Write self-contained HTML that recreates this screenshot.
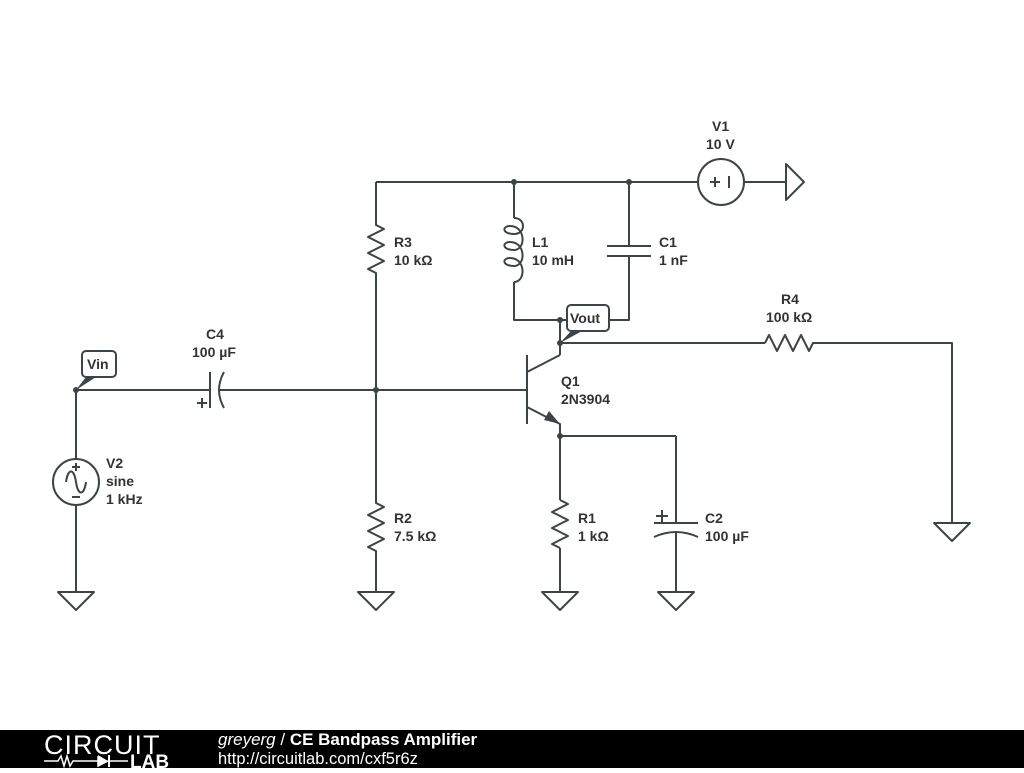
<!DOCTYPE html>
<html><head><style>
body{margin:0;width:1024px;height:768px;background:#fff;overflow:hidden;font-family:"Liberation Sans",sans-serif}
svg text{font-family:"Liberation Sans",sans-serif;font-weight:bold;font-size:14px;fill:#333}
</style></head><body>
<svg width="1024" height="768" viewBox="0 0 1024 768">
<g stroke="#3d4447" stroke-width="2" fill="none" stroke-linejoin="round">
<line x1="376" y1="182" x2="698" y2="182"/>
<circle cx="721" cy="182" r="23"/>
<line x1="710" y1="182" x2="720" y2="182"/><line x1="715" y1="177" x2="715" y2="187"/><line x1="729" y1="176" x2="729" y2="188"/>
<line x1="744" y1="182" x2="786" y2="182"/>
<polygon points="786,164 786,200 804,182"/>
<polyline points="376,182 376,225 384,229 368,237 384,245 368,253 384,261 368,269 376,273 376,390"/>
<line x1="76" y1="390" x2="210" y2="390"/>
<line x1="210" y1="372" x2="210" y2="408"/>
<path d="M224,372 Q214,390 224,408"/>
<line x1="218" y1="390" x2="527" y2="390"/>
<line x1="197" y1="403" x2="207" y2="403"/><line x1="202" y1="398" x2="202" y2="408"/>
<line x1="76" y1="390" x2="76" y2="459"/>
<circle cx="76" cy="482" r="23"/>
<path d="M66,482 C68,468 74,468 76,482 C78,496 84,496 86,482"/>
<line x1="72" y1="467" x2="80" y2="467"/><line x1="76" y1="463" x2="76" y2="471"/>
<line x1="72" y1="497" x2="80" y2="497"/>
<line x1="76" y1="505" x2="76" y2="592"/>
<polygon points="58,592 94,592 76,610"/>
<polyline points="376,390 376,503 384,507 368,515 384,523 368,531 384,539 368,547 376,551 376,592"/>
<polygon points="358,592 394,592 376,610"/>
<line x1="514" y1="182" x2="514" y2="218"/>
<path d="M514,218 C526,218 526,234 514,234 C502,234 502,226 510,226 C526,226 526,250 514,250 C502,250 502,242 510,242 C526,242 526,266 514,266 C502,266 502,258 510,258 C526,258 526,282 514,282"/>
<polyline points="514,282 514,320 629,320 629,256"/>
<line x1="629" y1="182" x2="629" y2="246"/>
<line x1="607" y1="246" x2="651" y2="246"/>
<line x1="607" y1="256" x2="651" y2="256"/>
<line x1="560" y1="320" x2="560" y2="355"/>
<line x1="527" y1="355" x2="527" y2="424"/>
<polyline points="527,372 560,355"/>
<polyline points="527,407 560,424 560,500"/>
<line x1="560" y1="548" x2="560" y2="592"/>
<line x1="560" y1="343" x2="765" y2="343"/>
<polyline points="765,343 769,335 777,351 785,335 793,351 801,335 809,351 813,343 952,343 952,523"/>
<polygon points="934,523 970,523 952,541"/>
<polyline points="560,500 568,504 552,512 568,520 552,528 568,536 552,544 560,548"/>
<polygon points="542,592 578,592 560,610"/>
<line x1="560" y1="436" x2="676" y2="436"/>
<line x1="676" y1="436" x2="676" y2="523"/>
<line x1="654" y1="523" x2="698" y2="523"/>
<path d="M654,537 Q676,527 698,537"/>
<line x1="676" y1="531" x2="676" y2="592"/>
<line x1="656" y1="516" x2="668" y2="516"/><line x1="662" y1="510" x2="662" y2="522"/>
<polygon points="658,592 694,592 676,610"/>
</g>
<polygon points="560,424 544,420 549,411" fill="#3d4447"/>
<g fill="#3d4447">
<circle cx="514" cy="182" r="3"/><circle cx="629" cy="182" r="3"/>
<circle cx="376" cy="390" r="3"/><circle cx="76" cy="390" r="3"/>
<circle cx="560" cy="320" r="3"/><circle cx="560" cy="343" r="3"/>
<circle cx="560" cy="436" r="3"/>
<polygon points="76,390 86,377 96,377"/>
<polygon points="560,343 572,330 584,330"/>
</g>
<rect x="82" y="351" width="34" height="26" rx="4" fill="#fff" stroke="#3d4447" stroke-width="2"/>
<text x="87" y="369">Vin</text>
<rect x="567" y="305" width="42" height="26" rx="4" fill="#fff" stroke="#3d4447" stroke-width="2"/>
<text x="570" y="323">Vout</text>
<text x="712" y="131">V1</text><text x="706" y="149">10 V</text>
<text x="394" y="247">R3</text><text x="394" y="265">10 kΩ</text>
<text x="532" y="247">L1</text><text x="532" y="265">10 mH</text>
<text x="659" y="247">C1</text><text x="659" y="265">1 nF</text>
<text x="781" y="304">R4</text><text x="766" y="322">100 kΩ</text>
<text x="206" y="339">C4</text><text x="192" y="357">100 µF</text>
<text x="561" y="386">Q1</text><text x="561" y="404">2N3904</text>
<text x="106" y="468">V2</text><text x="106" y="486">sine</text><text x="106" y="504">1 kHz</text>
<text x="394" y="523">R2</text><text x="394" y="541">7.5 kΩ</text>
<text x="578" y="523">R1</text><text x="578" y="541">1 kΩ</text>
<text x="705" y="523">C2</text><text x="705" y="541">100 µF</text>
<rect x="0" y="730" width="1024" height="38" fill="#000"/>
<text x="44" y="754" style="font-weight:normal;font-size:27px;fill:#fff;letter-spacing:1px">CIRCUIT</text>
<g stroke="#fff" stroke-width="1.5" fill="none"><polyline points="44,761 58,761 61,756 64,766 67,756 70,766 73,761 98,761 98,756 98,766 108,761 128,761"/></g>
<polygon points="98,755 98,767 108,761" fill="#fff"/>
<line x1="109" y1="755" x2="109" y2="767" stroke="#fff" stroke-width="2"/>
<text x="130" y="768" style="font-size:19px;fill:#fff">LAB</text>
<text x="218" y="745" style="font-size:17px;fill:#fff"><tspan style="font-style:italic;font-weight:normal">greyerg</tspan><tspan style="font-weight:normal"> / </tspan>CE Bandpass Amplifier</text>
<text x="218" y="764" style="font-size:16.5px;font-weight:normal;fill:#fff">http://circuitlab.com/cxf5r6z</text>
</svg>
</body></html>
